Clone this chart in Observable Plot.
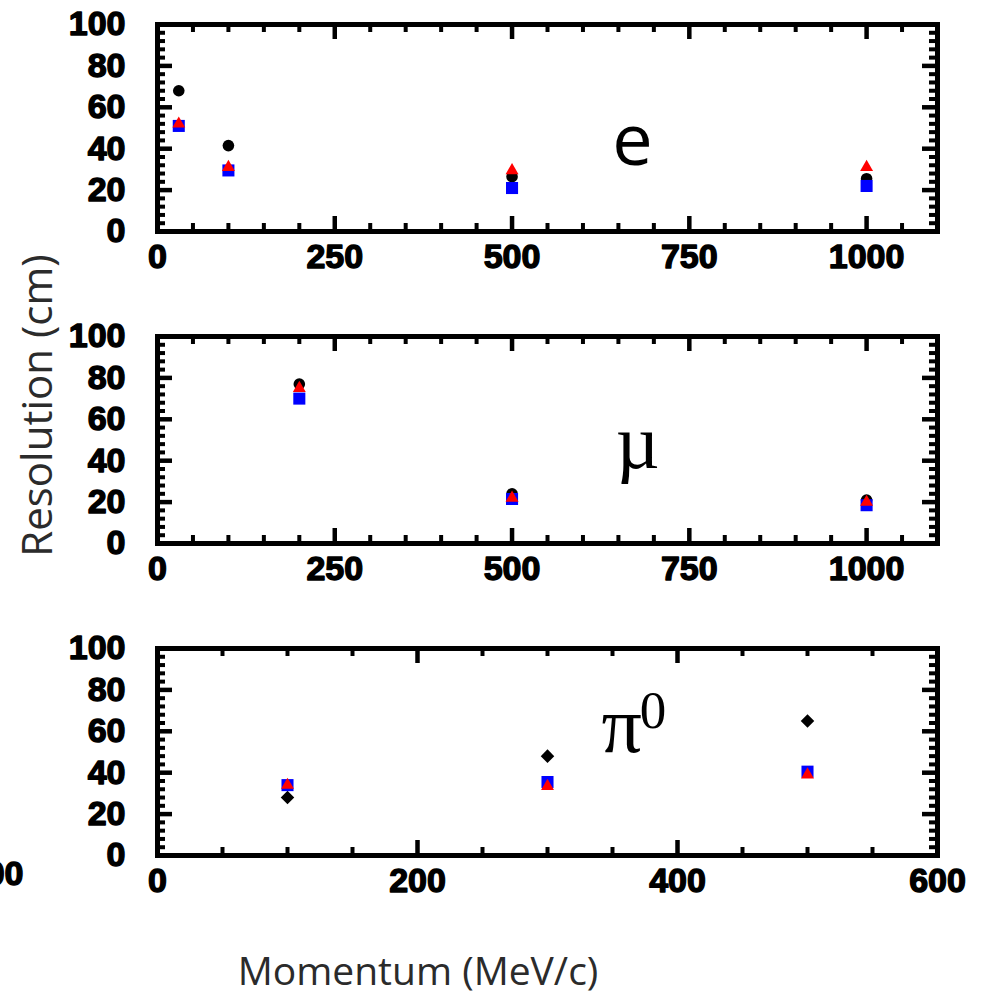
<!DOCTYPE html>
<html>
<head>
<meta charset="utf-8">
<script src="https://cdn.jsdelivr.net/npm/d3@7"></script>
<script src="https://cdn.jsdelivr.net/npm/@observablehq/plot@0.6"></script>
<style>
  html, body { margin: 0; padding: 0; background: #fff; }
  #figure { position: relative; width: 984px; height: 995px; overflow: hidden; background: #fff; }
  .panel { position: absolute; left: 0; }
  .panel svg { overflow: visible; }
  .panel g[aria-label$="tick label"] text { stroke: #000; stroke-width: 1.4px; stroke-linejoin: round; }
  #titles { position: absolute; left: 0; top: 0; pointer-events: none; }
</style>
</head>
<body>
<div id="figure"></div>
<script>
// Shared tick labels
const yTicks = [0, 20, 40, 60, 80, 100];
const wideXTicks = [0, 250, 500, 750, 1000];
const pionXTicks = [0, 200, 400, 600];

// Electron resolution (cm) vs momentum (MeV/c)
const eMomentum = [30, 100, 500, 1000];
const eBlack = [68, 41.5, 26.5, 25.5];
const eBlue = [51, 29.5, 21, 22];
const eRed = [52, 31, 29.5, 31];

// Muon
const muMomentum = [200, 500, 1000];
const muBlack = [77, 24, 21];
const muBlue = [70, 21.5, 18.5];
const muRed = [75, 22, 20];

// Neutral pion
const piMomentum = [100, 300, 500];
const piBlack = [28, 48, 65];
const piBlue = [34, 35.5, 40.5];
const piRed = [34, 33.5, 39];

const W = 984;
const panelHeight = 280;
const margins = {marginTop: 24, marginBottom: 49, marginLeft: 157, marginRight: 47};
const plotW = W - margins.marginLeft - margins.marginRight;
const plotH = panelHeight - margins.marginTop - margins.marginBottom;

// Inward ticks on all four sides of the frame
function frameTicks(xMajor, xMinor, yMajor, yMinor) {
  const big = {stroke: "#000", strokeWidth: 4.5};
  const small = {stroke: "#000", strokeWidth: 4};
  const L = 15, l = 8;
  return [
    Plot.tickX(xMinor, {x: d => d, insetTop: plotH - l, ...small}),
    Plot.tickX(xMinor, {x: d => d, insetBottom: plotH - l, ...small}),
    Plot.tickX(xMajor, {x: d => d, insetTop: plotH - L, ...big}),
    Plot.tickX(xMajor, {x: d => d, insetBottom: plotH - L, ...big}),
    Plot.tickY(yMinor, {y: d => d, insetRight: plotW - l, ...small}),
    Plot.tickY(yMinor, {y: d => d, insetLeft: plotW - l, ...small}),
    Plot.tickY(yMajor, {y: d => d, insetRight: plotW - L, ...big}),
    Plot.tickY(yMajor, {y: d => d, insetLeft: plotW - L, ...big})
  ];
}

function panel({xMax, xTicks, minorStep, momentum, black, blue, red, blackSymbol, blackR, labels}) {
  const inner = v => v > 0 && v < xMax;
  const xMinor = d3.range(minorStep, xMax, minorStep).filter(v => !xTicks.includes(v));
  const yMinor = d3.range(4, 100, 4).filter(v => v % 20 !== 0);
  return Plot.plot({
    width: W,
    height: panelHeight,
    ...margins,
    x: {domain: [0, xMax]},
    y: {domain: [0, 100]},
    style: {
      fontFamily: "'Liberation Sans', Arial, sans-serif",
      fontSize: "34px",
      fontWeight: "bold",
      color: "#000",
      background: "transparent",
      overflow: "visible"
    },
    marks: [
      Plot.frame({stroke: "#000", strokeWidth: 5}),
      ...frameTicks(xTicks.filter(inner), xMinor, yTicks.filter(v => v > 0 && v < 100), yMinor),
      Plot.axisX(xTicks, {anchor: "bottom", tickSize: 0, tickPadding: 12, tickFormat: d => String(d), label: null}),
      Plot.axisY(yTicks, {anchor: "left", tickSize: 0, tickPadding: 32, tickFormat: d => String(d), label: null}),
      Plot.dot(momentum, {x: d => d, y: black, symbol: blackSymbol, fill: "#000", r: blackR}),
      Plot.dot(momentum, {x: d => d, y: blue, symbol: "square", fill: "#0000ff", r: 6.8}),
      Plot.dot(momentum, {x: d => d, y: red, symbol: "triangle", fill: "#ff0000", r: 4.8}),
      ...labels
    ]
  });
}

const labelStyle = {fill: "#000", fontWeight: "normal", lineAnchor: "bottom", text: d => d};
const serif = "'Liberation Serif', 'Times New Roman', serif";

const panels = [
  panel({
    xMax: 1100, xTicks: wideXTicks, minorStep: 50,
    momentum: eMomentum, black: eBlack, blue: eBlue, red: eRed,
    blackSymbol: "circle", blackR: 5.8,
    labels: [Plot.text(["e"], {x: 670, y: 32, fontFamily: "'Open Sans', sans-serif", fontSize: 72, ...labelStyle})]
  }),
  panel({
    xMax: 1100, xTicks: wideXTicks, minorStep: 50,
    momentum: muMomentum, black: muBlack, blue: muBlue, red: muRed,
    blackSymbol: "circle", blackR: 5.8,
    labels: [Plot.text(["\u00b5"], {x: 677, y: 36.7, fontFamily: serif, fontSize: 76, ...labelStyle})]
  }),
  panel({
    xMax: 600, xTicks: pionXTicks, minorStep: 50,
    momentum: piMomentum, black: piBlack, blue: piBlue, red: piRed,
    blackSymbol: "diamond2", blackR: 6.1,
    labels: [
      Plot.text(["π"], {x: 357, y: 49.8, fontFamily: serif, fontSize: 80, ...labelStyle}),
      Plot.text(["0"], {x: 371, y: 61.4, textAnchor: "start", fontFamily: serif, fontSize: 53, ...labelStyle})
    ]
  })
];

const figure = document.getElementById("figure");
const tops = [0, 312, 624];
panels.forEach((svg, i) => {
  const wrap = document.createElement("div");
  wrap.className = "panel";
  wrap.style.top = tops[i] + "px";
  wrap.appendChild(svg);
  figure.appendChild(wrap);
});

// Axis titles and the clipped neighbouring tick label at the lower left
const ns = "http://www.w3.org/2000/svg";
const titles = document.createElementNS(ns, "svg");
titles.setAttribute("id", "titles");
titles.setAttribute("width", 984);
titles.setAttribute("height", 995);
function addText(str, attrs) {
  const t = document.createElementNS(ns, "text");
  for (const [k, v] of Object.entries(attrs)) t.setAttribute(k, v);
  t.textContent = str;
  titles.appendChild(t);
}
addText("Resolution (cm)", {
  transform: "translate(52,405.5) rotate(-90)", "text-anchor": "middle",
  "font-family": "'Open Sans', sans-serif", "font-size": 42, fill: "#2b2b2b"
});
addText("Momentum (MeV/c)", {
  x: 418, y: 985, "text-anchor": "middle",
  "font-family": "'Open Sans', sans-serif", "font-size": 39, fill: "#2b2b2b"
});
addText("600", {
  x: 23.5, y: 885, "text-anchor": "end",
  "font-family": "'Liberation Sans', Arial, sans-serif", "font-size": 34, "font-weight": "bold",
  fill: "#000", stroke: "#000", "stroke-width": 1.4, "stroke-linejoin": "round"
});
figure.appendChild(titles);
</script>
</body>
</html>
